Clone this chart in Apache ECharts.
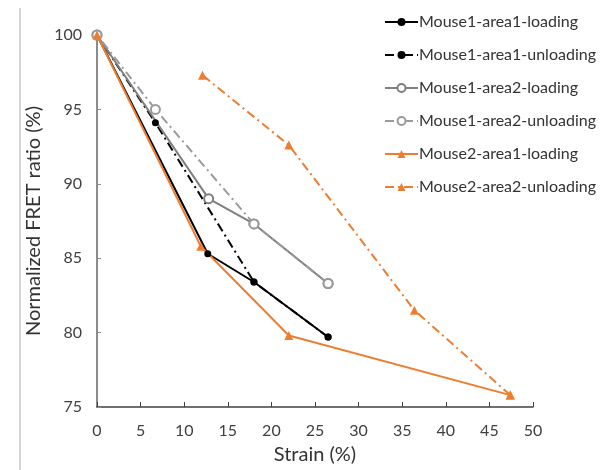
<!DOCTYPE html>
<html><head><meta charset="utf-8">
<script src="https://cdn.jsdelivr.net/npm/echarts@6/dist/echarts.min.js"></script>
<style>html,body{margin:0;padding:0;background:#fff}#c{width:603px;height:470px}</style>
</head><body><div id="c"></div>
<script>
const xTicks = [0,5,10,15,20,25,30,35,40,45,50];
const yTicks = [75,80,85,90,95,100];
const seriesNames = ['Mouse1-area1-loading','Mouse1-area1-unloading','Mouse1-area2-loading','Mouse1-area2-unloading','Mouse2-area1-loading','Mouse2-area2-unloading'];
const m1a1Load = [[0,100],[12.7,85.3],[18,83.4],[26.5,79.7]];
const m1a1Unload = [[26.5,79.7],[18,83.4],[6.7,94.1],[0,100]];
const m1a2Load = [[0,100],[12.8,89.0],[18,87.3],[26.5,83.3]];
const m1a2Unload = [[26.5,83.3],[18,87.3],[6.7,95.0],[0,100]];
const m2a1Load = [[0,100],[11.9,85.8],[22,79.8],[47.4,75.8]];
const m2a2Unload = [[47.4,75.8],[36.4,81.5],[22,92.6],[12.1,97.3]];

const font = 'Lato';
const chart = echarts.init(document.getElementById('c'));
function s(name, data, color, dashed, symbol, size){
  return {
    name, type:'line', data, symbol, symbolSize:size,
    lineStyle:{color, width:2, type: dashed ? [9,4,2,4] : 'solid'},
    itemStyle:{color, borderWidth: symbol==='emptyCircle'?1.3:0},
    emphasis:{disabled:true}, animation:false
  };
}
chart.setOption({
  animation:false,
  textStyle:{fontFamily:font},
  grid:{left:97,right:70,top:35,bottom:56},
  legend:{
    orient:'vertical', left:379, top:8, itemWidth:33, itemHeight:10, itemGap:15,
    textStyle:{fontFamily:font, fontSize:16, lineHeight:18, color:'#333', padding:[0,0,0,-4]},
    data: seriesNames
  },
  xAxis:{
    type:'value', min:0, max:50, interval:5,
    name:'Strain (%)', nameLocation:'middle', nameGap:38,
    nameTextStyle:{fontFamily:font, fontSize:20, color:'#333'},
    axisLine:{lineStyle:{color:'#404040', width:1.5}},
    axisTick:{inside:true, length:5, lineStyle:{color:'#404040'}},
    axisLabel:{fontFamily:font, fontSize:16, color:'#404040', margin:16, formatter:v=>xTicks.includes(v)?String(v):''},
    splitLine:{show:false}
  },
  yAxis:{
    type:'value', min:75, max:100, interval:5,
    name:'Normalized FRET ratio (%)', nameLocation:'middle', nameGap:44,
    nameTextStyle:{fontFamily:font, fontSize:20, color:'#333'},
    axisLine:{show:true, lineStyle:{color:'#8c8c8c', width:2}},
    axisTick:{show:true, inside:true, length:4, lineStyle:{color:'#8c8c8c'}},
    axisLabel:{fontFamily:font, fontSize:16, color:'#404040', margin:15, formatter:v=>yTicks.includes(v)?String(v):''},
    splitLine:{show:false}
  },
  graphic:[{type:'line', shape:{x1:20,y1:8,x2:20,y2:470}, style:{stroke:'#d4d4d4', lineWidth:2}, silent:true}],
  series:[
    s(seriesNames[0], m1a1Load, '#000000', false, 'circle', 7),
    s(seriesNames[1], m1a1Unload, '#000000', true, 'circle', 7),
    s(seriesNames[2], m1a2Load, '#7f7f7f', false, 'emptyCircle', 9),
    s(seriesNames[3], m1a2Unload, '#9a9a9a', true, 'emptyCircle', 9),
    s(seriesNames[4], m2a1Load, '#ed7d31', false, 'triangle', 9),
    s(seriesNames[5], m2a2Unload, '#ed7d31', true, 'triangle', 9)
  ]
});
</script></body></html>
